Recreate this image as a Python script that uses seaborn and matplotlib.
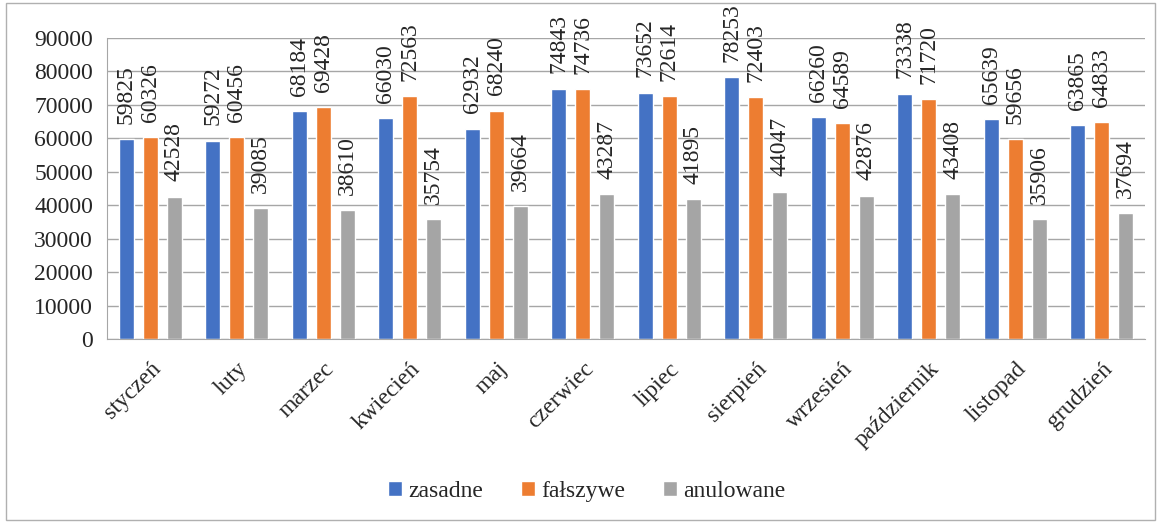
import pandas as pd
import numpy as np
import seaborn as sns
import matplotlib.pyplot as plt
from matplotlib.patches import Rectangle

months = ['styczeń', 'luty', 'marzec', 'kwiecień', 'maj', 'czerwiec', 'lipiec',
          'sierpień', 'wrzesień', 'październik', 'listopad', 'grudzień']
zasadne = [59825, 59272, 68184, 66030, 62932, 74843, 73652, 78253, 66260, 73338, 65639, 63865]
falszywe = [60326, 60456, 69428, 72563, 68240, 74736, 72614, 72403, 64589, 71720, 59656, 64833]
anulowane = [42528, 39085, 38610, 35754, 39664, 43287, 41895, 44047, 42876, 43408, 35906, 37694]
series = ['zasadne', 'fałszywe', 'anulowane']
colors = ['#4472C4', '#ED7D31', '#A5A5A5']

df = pd.DataFrame({'miesiac': months * 3,
                   'seria': [s for s in series for _ in months],
                   'wartosc': zasadne + falszywe + anulowane})

sns.set_style('white')
plt.rcParams['font.family'] = ['Liberation Serif', 'DejaVu Serif']
fs = 17

fig = plt.figure(figsize=(11.62, 5.22), dpi=100)
ax = fig.add_axes([107 / 1162, 1 - 339 / 522, 1038 / 1162, 301 / 522])

sns.barplot(data=df, x='miesiac', y='wartosc', hue='seria', palette=colors,
            saturation=1, width=0.83, gap=0.375, ax=ax, legend=True)

for cont in ax.containers:
    ax.bar_label(cont, rotation=90, padding=11, fontsize=fs)

ax.set_ylim(0, 90000)
ax.set_yticks(np.arange(0, 90001, 10000))
ax.yaxis.grid(True, color='#a6a6a6', linewidth=1)
ax.set_axisbelow(True)
ax.set_xlim(-0.5, 11.5)
ax.set_xlabel('')
ax.set_ylabel('')
for s in ['top', 'right']:
    ax.spines[s].set_visible(False)
ax.spines['left'].set_color('#a6a6a6')
ax.spines['bottom'].set_color('#a6a6a6')
ax.tick_params(axis='y', labelsize=fs, length=0, pad=10)
ax.tick_params(axis='x', which='major', length=0, labelsize=fs, pad=14)
ax.set_xticks(np.arange(-0.5, 12, 1), minor=True)
ax.tick_params(axis='x', which='minor', length=5, color='#a6a6a6', direction='out')
plt.setp(ax.get_xticklabels(), rotation=45, ha='right', rotation_mode='anchor')

leg = ax.legend(loc='center', bbox_to_anchor=(0.462, -0.507), ncol=3, frameon=False,
                fontsize=fs, handlelength=0.6, handleheight=0.6,
                handletextpad=0.25, columnspacing=1.6)
for t in leg.get_texts():
    t.set_fontfamily(['Liberation Serif', 'DejaVu Serif'])

fig.patches.append(Rectangle((6 / 1162, 2 / 522), 1149 / 1162, 517 / 522,
                             transform=fig.transFigure, fill=False,
                             edgecolor='#b0b0b0', linewidth=1))

fig.savefig('out.png', dpi=100)
